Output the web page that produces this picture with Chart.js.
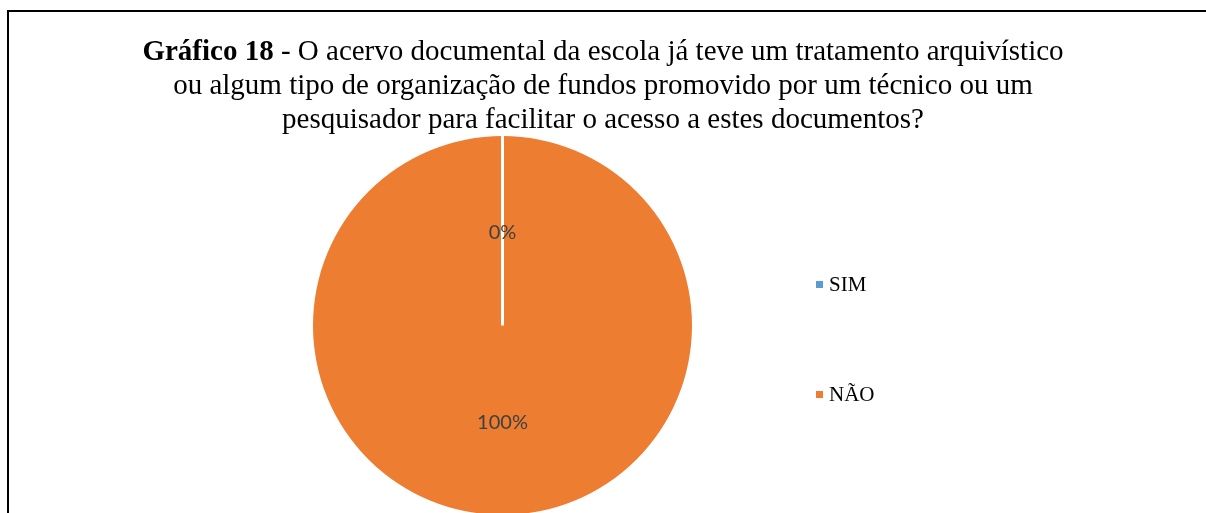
<!DOCTYPE html>
<html><head><meta charset="utf-8">
<script src="https://cdn.jsdelivr.net/npm/chart.js@4/dist/chart.umd.min.js"></script>
<style>
html,body{margin:0;padding:0;width:1206px;height:513px;overflow:hidden;background:#fff;}
#wrap{position:relative;width:1206px;height:513px;overflow:hidden;}
#frameL{position:absolute;left:7px;top:10px;width:2px;height:520px;background:#000;}
#frameT{position:absolute;left:7px;top:10px;width:1210px;height:2px;background:#000;}
#title{position:absolute;left:0;width:1206px;top:33px;text-align:center;font-family:"Liberation Serif","Times New Roman",serif;font-size:29px;line-height:34px;color:#000;}
canvas{position:absolute;left:0;top:0;}
</style></head>
<body><div id="wrap">
<canvas id="c" width="1206" height="540"></canvas>
<div id="frameL"></div><div id="frameT"></div>
<div id="title"><b>Gráfico 18</b> - O acervo documental da escola já teve um tratamento arquivístico<br>ou algum tipo de organização de fundos promovido por um técnico ou um<br>pesquisador para facilitar o acesso a estes documentos?</div>
</div>
<script>
const categories = ["SIM", "NÃO"];
const values = [0, 100];
const valueLabels = ["0%", "100%"];
const colors = ["#5B9BD5", "#ED7D31"];

const overlay = {
  id: 'overlay',
  afterDatasetsDraw(chart) {
    const ctx = chart.ctx;
    const meta = chart.getDatasetMeta(0);
    const a0 = meta.data[0];
    const {x, y, outerRadius, startAngle} = a0.getProps(['x','y','outerRadius','startAngle'], true);
    ctx.save();
    ctx.strokeStyle = '#fff';
    ctx.lineWidth = 3;
    ctx.beginPath();
    ctx.moveTo(x, y);
    ctx.lineTo(x + Math.cos(startAngle) * (outerRadius + 2), y + Math.sin(startAngle) * (outerRadius + 2));
    ctx.stroke();
    ctx.fillStyle = '#404040';
    ctx.font = '20px Lato, "Open Sans", sans-serif';
    ctx.textAlign = 'center';
    ctx.textBaseline = 'middle';
    meta.data.forEach((el, i) => {
      const p = el.getCenterPoint();
      ctx.fillText(valueLabels[i], p.x, p.y + 2);
    });
    const legY = [284.5, 394.5];
    ctx.font = '21px "Liberation Serif", "Times New Roman", serif';
    ctx.textAlign = 'left';
    categories.forEach((c, i) => {
      ctx.fillStyle = colors[i];
      ctx.fillRect(816, legY[i] - 3.5, 7, 7);
      ctx.fillStyle = '#000';
      ctx.fillText(c, 829, legY[i] + 1);
    });
    ctx.restore();
  }
};

new Chart(document.getElementById('c'), {
  type: 'pie',
  data: {
    labels: categories,
    datasets: [{ data: values, backgroundColor: colors, borderWidth: 0, hoverOffset: 0 }]
  },
  options: {
    responsive: false,
    animation: false,
    events: [],
    layout: { padding: { top: 136, bottom: 25, left: 313, right: 514 } },
    plugins: { legend: { display: false }, tooltip: { enabled: false }, title: { display: false } }
  },
  plugins: [overlay]
});
</script>
</body></html>
